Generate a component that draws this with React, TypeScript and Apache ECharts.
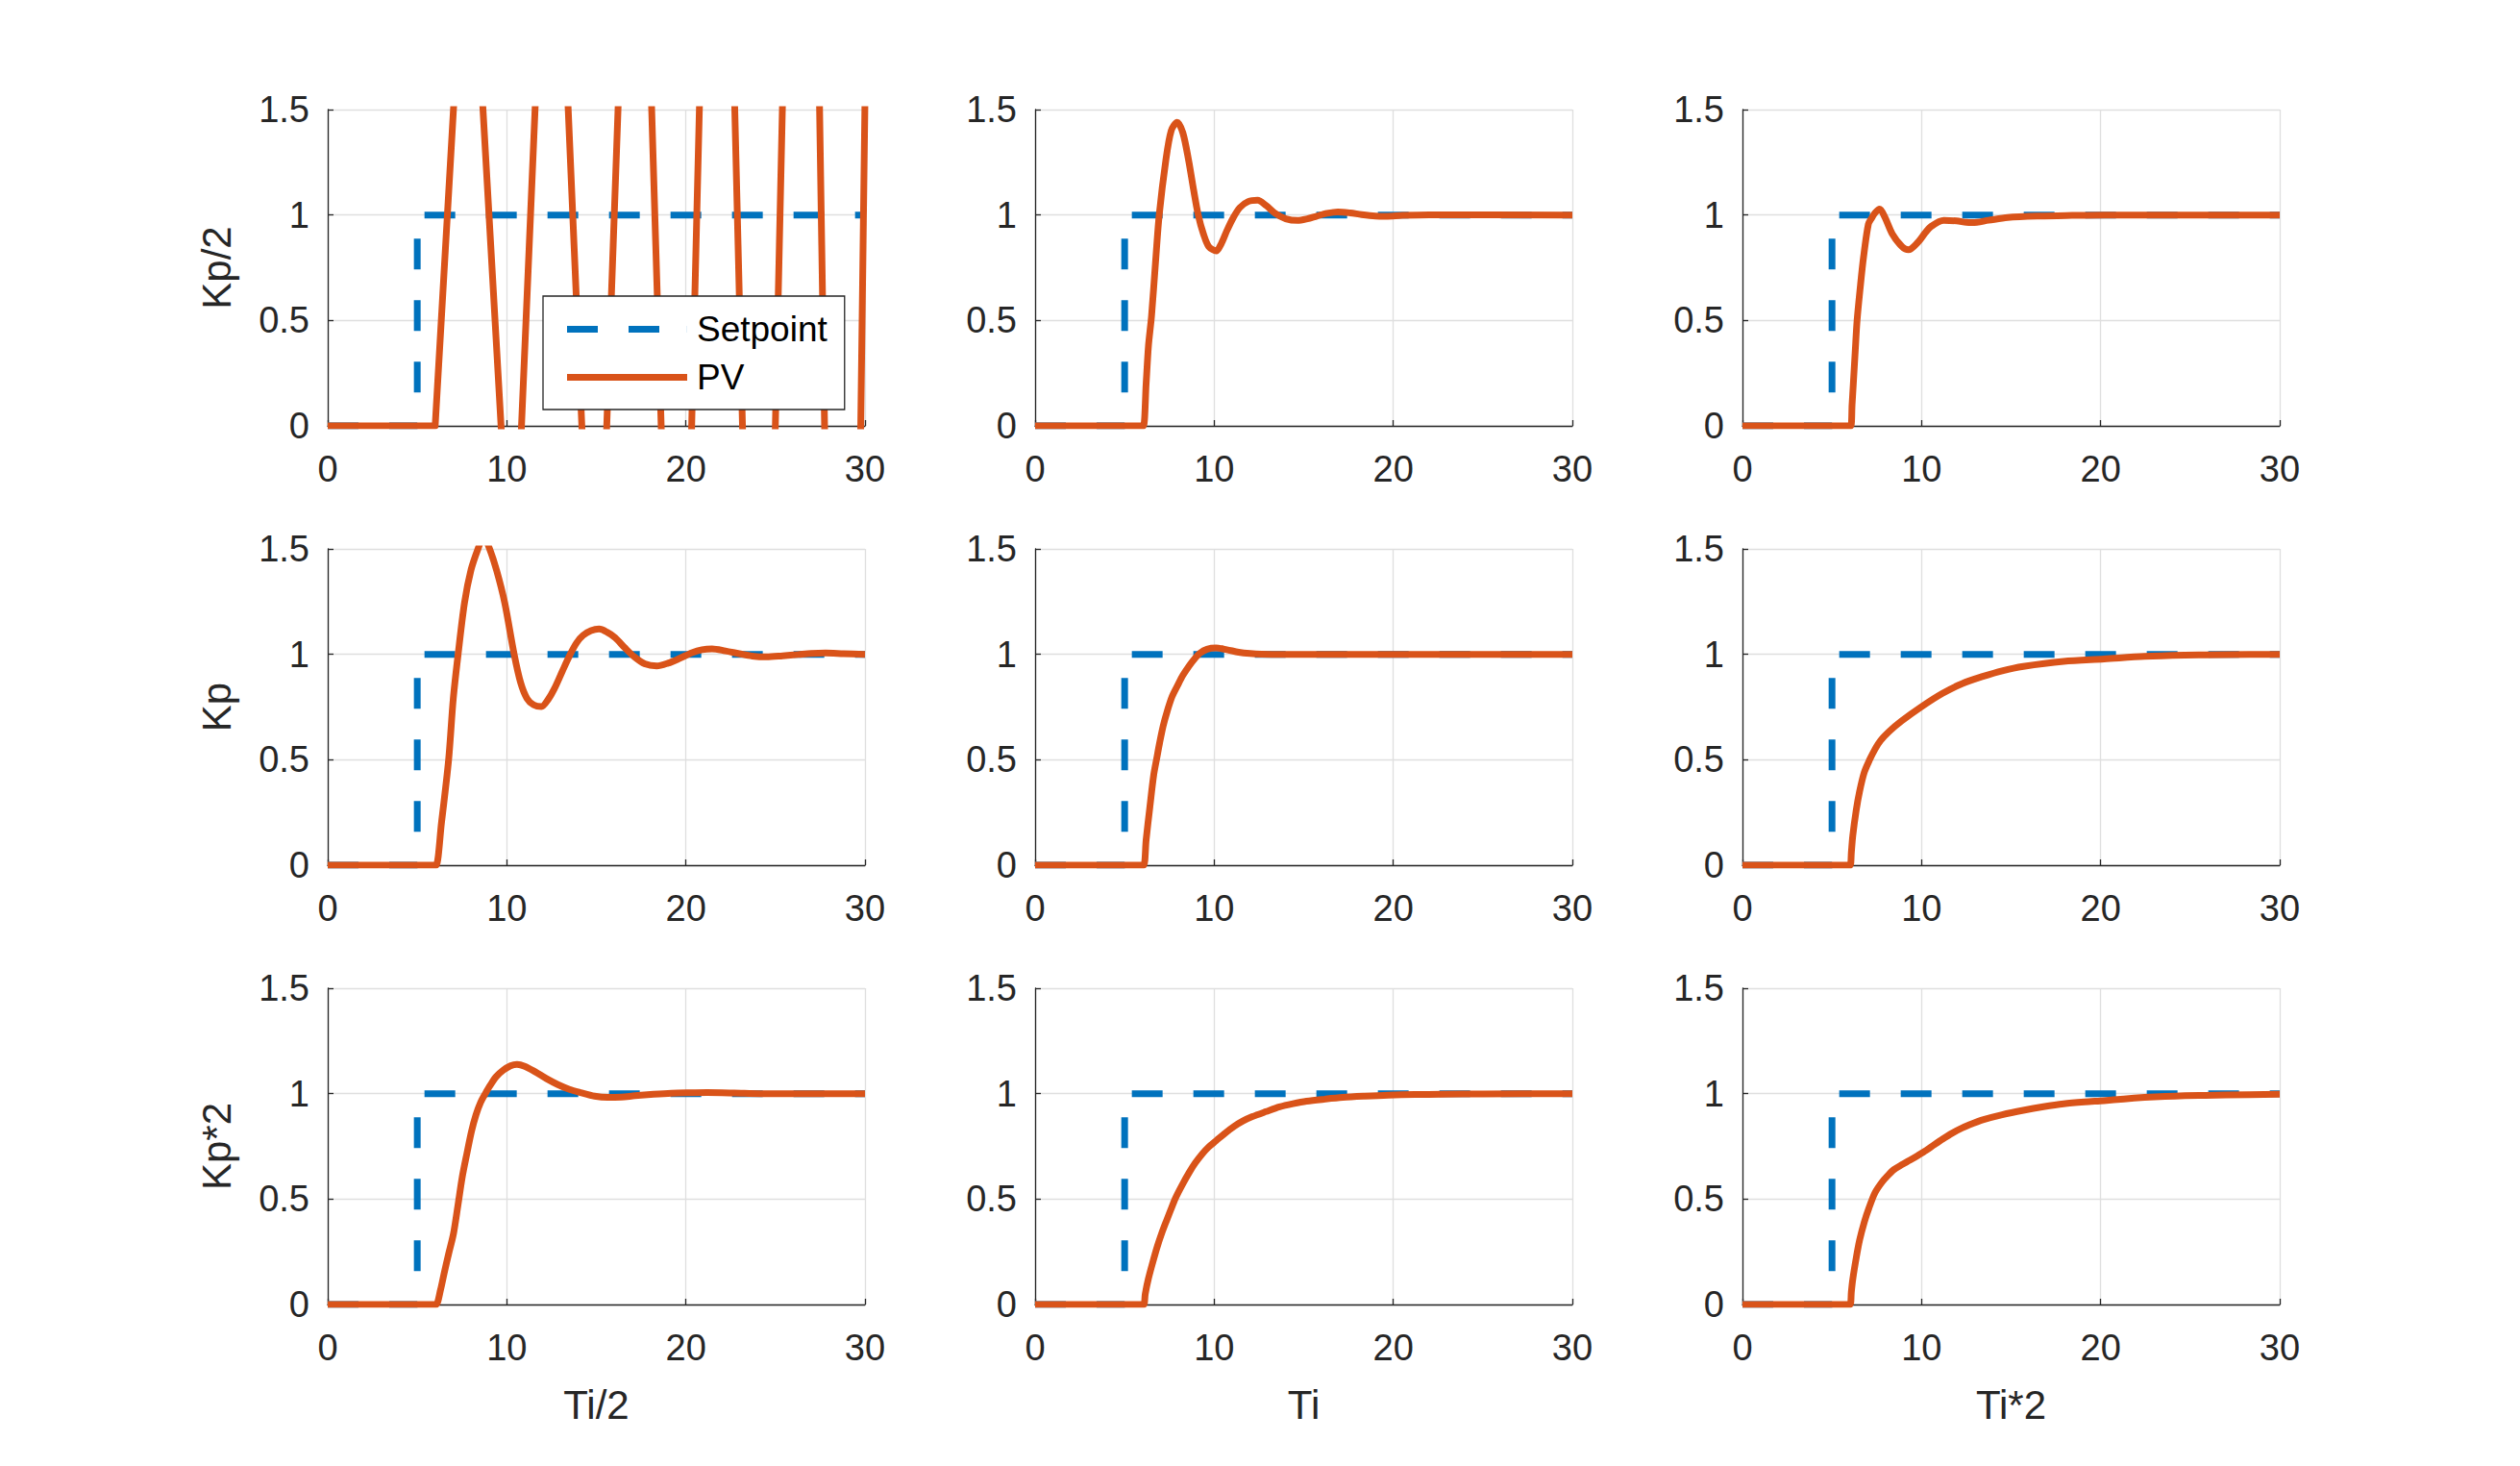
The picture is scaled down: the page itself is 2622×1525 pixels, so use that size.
import React, { useEffect, useRef } from 'react';
import * as echarts from 'echarts';

// ---- Labels and ticks ----
const ROW_LABELS = ['Kp/2', 'Kp', 'Kp*2'];
const COL_LABELS = ['Ti/2', 'Ti', 'Ti*2'];
const X_MIN = 0, X_MAX = 30, X_STEP = 10;
const Y_MIN = 0, Y_MAX = 1.5, Y_STEP = 0.5;
const LEGEND_NAMES = ['Setpoint', 'PV'];

// ---- Setpoint (step at t = 5) ----
const SETPOINT_T = [0, 5, 5, 30];
const SETPOINT_Y = [0, 0, 1, 1];

// ---- PV responses [t, value] ----
const PV_KP2_TI2: number[][] = [
  [0, 0], [6, 0], [7.85, 2.72], [10.33, -0.97], [12.5, 3.33], [14.95, -1.5], [17.23, 3.93],
  [19.56, -2.66], [21.74, 4.95], [24.12, -3.35], [26.6, 6.15], [28.85, -5.95], [30, 1.55],
];
const PV_KP2_TI: number[][] = [
  [0, 0], [5.9, 0], [6.05, 0], [6.2, 0.2], [6.33, 0.38], [6.5, 0.52], [6.72, 0.77], [6.93, 1.0],
  [7.3, 1.26], [7.6, 1.4], [7.93, 1.44], [8.25, 1.39], [8.57, 1.26], [8.85, 1.12], [9.11, 1.0],
  [9.4, 0.91], [9.7, 0.85], [10.12, 0.83], [10.4, 0.865], [10.71, 0.926], [11.05, 0.985],
  [11.43, 1.035], [11.9, 1.064], [12.42, 1.07], [12.9, 1.045], [13.4, 1.008], [14.0, 0.982],
  [14.65, 0.974], [15.2, 0.982], [15.73, 0.995], [16.3, 1.008], [16.9, 1.015], [17.6, 1.01],
  [18.23, 1.002], [19.0, 0.995], [19.6, 0.994], [20.5, 0.998], [22, 1.001], [30, 1.0],
];
const PV_KP2_TI_X2: number[][] = [
  [0, 0], [5.9, 0], [6.05, 0], [6.12, 0.1], [6.19, 0.2], [6.3, 0.36], [6.4, 0.5], [6.58, 0.66],
  [6.76, 0.8], [7.03, 0.956], [7.21, 0.985], [7.4, 1.01], [7.66, 1.028], [7.95, 0.99],
  [8.37, 0.91], [8.91, 0.85], [9.27, 0.835], [9.81, 0.872], [10.2, 0.915], [10.52, 0.945],
  [11.24, 0.974], [11.95, 0.972], [12.5, 0.965], [12.85, 0.964], [13.74, 0.975], [14.81, 0.988],
  [16.6, 0.995], [18.4, 0.998], [20.2, 1.0], [30, 1.0],
];
const PV_KP_TI2: number[][] = [
  [0, 0], [5.9, 0], [6.05, 0], [6.35, 0.2], [6.75, 0.5], [7.01, 0.79], [7.28, 1.0], [7.64, 1.246],
  [8.0, 1.4], [8.39, 1.5], [8.7, 1.56], [9.04, 1.5], [9.43, 1.398], [9.88, 1.246], [10.41, 1.0],
  [10.77, 0.866], [11.13, 0.79], [11.5, 0.76], [11.93, 0.752], [12.3, 0.785], [12.65, 0.836],
  [13.1, 0.92], [13.54, 1.0], [13.9, 1.055], [14.26, 1.09], [14.7, 1.112], [15.15, 1.12],
  [15.6, 1.105], [16.05, 1.079], [16.6, 1.03], [17.12, 0.988], [17.7, 0.955], [18.37, 0.945],
  [19.0, 0.958], [19.63, 0.98], [20.34, 1.008], [20.9, 1.022], [21.46, 1.026], [22.2, 1.016],
  [22.98, 1.003], [23.7, 0.992], [24.5, 0.988], [25.4, 0.993], [26.27, 0.999], [27.0, 1.004],
  [27.8, 1.006], [28.8, 1.003], [30, 1.0],
];
const PV_KP_TI: number[][] = [
  [0, 0], [5.9, 0], [6.07, 0], [6.2, 0.12], [6.4, 0.27], [6.62, 0.426], [6.8, 0.51], [6.95, 0.579],
  [7.15, 0.66], [7.38, 0.731], [7.65, 0.8], [7.96, 0.853], [8.25, 0.9], [8.59, 0.944],
  [8.9, 0.978], [9.2, 1.005], [9.6, 1.024], [10.1, 1.03], [10.7, 1.022], [11.37, 1.01],
  [12.0, 1.004], [12.64, 1.001], [14, 1.0], [30, 1.0],
];
const PV_KP_TI_X2: number[][] = [
  [0, 0], [5.9, 0], [6.02, 0], [6.08, 0.06], [6.16, 0.14], [6.35, 0.26], [6.54, 0.35], [6.8, 0.44],
  [7.1, 0.5], [7.4, 0.55], [7.7, 0.59], [8.2, 0.635], [8.9, 0.685], [10.0, 0.752], [11.17, 0.815],
  [12.29, 0.862], [13.42, 0.895], [14.5, 0.922], [15.68, 0.943], [17.93, 0.967], [20.19, 0.978],
  [22.45, 0.99], [24.7, 0.996], [27, 0.999], [30, 1.0],
];
const PV_KP_X2_TI2: number[][] = [
  [0, 0], [5.9, 0], [6.05, 0], [6.3, 0.07], [6.51, 0.152], [6.75, 0.24], [7.02, 0.335], [7.27, 0.47],
  [7.52, 0.609], [7.78, 0.72], [8.03, 0.822], [8.28, 0.9], [8.54, 0.959], [8.8, 1.0], [9.04, 1.035],
  [9.4, 1.08], [9.8, 1.111], [10.2, 1.132], [10.57, 1.139], [11.0, 1.13], [11.58, 1.104],
  [12.2, 1.072], [12.85, 1.043], [13.5, 1.02], [14.11, 1.005], [14.9, 0.988], [15.63, 0.982],
  [16.4, 0.984], [17.15, 0.99], [18.2, 0.997], [19.18, 1.002], [20.2, 1.004], [21.2, 1.005],
  [22.7, 1.003], [24.2, 1.0], [30, 1.0],
];
const PV_KP_X2_TI: number[][] = [
  [0, 0], [5.9, 0], [6.07, 0], [6.15, 0.05], [6.32, 0.12], [6.57, 0.2], [6.82, 0.274], [7.08, 0.34],
  [7.33, 0.396], [7.58, 0.45], [7.83, 0.503], [8.2, 0.565], [8.59, 0.624], [8.95, 0.672],
  [9.35, 0.716], [9.7, 0.748], [10.11, 0.777], [10.6, 0.812], [11.12, 0.845], [11.6, 0.87],
  [12.13, 0.891], [12.9, 0.915], [13.65, 0.937], [14.4, 0.952], [15.16, 0.964], [16.2, 0.974],
  [17.18, 0.982], [18.4, 0.988], [19.71, 0.993], [21.2, 0.996], [22.74, 0.997], [25, 0.999],
  [30, 1.0],
];
const PV_KP_X2_TI_X2: number[][] = [
  [0, 0], [5.9, 0], [6.02, 0], [6.08, 0.06], [6.16, 0.12], [6.35, 0.22], [6.54, 0.305],
  [6.8, 0.39], [7.06, 0.457], [7.4, 0.53], [7.78, 0.579], [8.1, 0.61], [8.46, 0.64], [8.9, 0.663],
  [9.36, 0.685], [9.8, 0.707], [10.26, 0.731], [10.7, 0.757], [11.17, 0.784], [11.7, 0.812],
  [12.29, 0.838], [12.85, 0.858], [13.42, 0.876], [14.5, 0.9], [15.68, 0.921], [16.8, 0.938],
  [17.93, 0.952], [19.1, 0.961], [20.19, 0.967], [21.3, 0.975], [22.45, 0.982], [23.6, 0.987],
  [24.7, 0.99], [27, 0.994], [30, 0.997],
];

const PANELS: number[][][] = [
  PV_KP2_TI2, PV_KP2_TI, PV_KP2_TI_X2,
  PV_KP_TI2, PV_KP_TI, PV_KP_TI_X2,
  PV_KP_X2_TI2, PV_KP_X2_TI, PV_KP_X2_TI_X2,
];

// ---- Layout ----
const COL_LEFT = [341, 1077, 1813];
const ROW_TOP = [114, 571, 1028];
const PLOT_W = 559;
const PLOT_H = 329;

const FONT = '"Liberation Sans", Arial, Helvetica, sans-serif';
const AXIS_COLOR = '#262626';
const GRID_COLOR = '#dfdfdf';
const SP_COLOR = '#0072BD';
const PV_COLOR = '#D95319';
const LINE_W = 7;

// Legend icons: dashed sample (two dashes over a 125 px wide box) and a solid bar
const DASH_ICON = 'path://M0,0h32v7H0zM64,0h32v7H64zM124.9,0h0.1v7h-0.1z';

function buildOption() {
  const grid: any[] = [];
  const xAxis: any[] = [];
  const yAxis: any[] = [];
  const series: any[] = [];
  const spData = SETPOINT_T.map((t, i) => [t, SETPOINT_Y[i]]);

  PANELS.forEach((pv, i) => {
    const row = Math.floor(i / 3);
    const col = i % 3;
    grid.push({ left: COL_LEFT[col], top: ROW_TOP[row], width: PLOT_W, height: PLOT_H, containLabel: false });
    xAxis.push({
      gridIndex: i,
      type: 'value',
      min: X_MIN,
      max: X_MAX,
      interval: X_STEP,
      name: row === 2 ? COL_LABELS[col] : '',
      nameLocation: 'middle',
      nameGap: 83,
      nameTextStyle: { fontSize: 42, color: AXIS_COLOR, fontFamily: FONT },
      axisLine: { show: true, onZero: false, lineStyle: { color: AXIS_COLOR, width: 1.3 } },
      axisTick: { show: true, inside: true, length: 6, lineStyle: { color: AXIS_COLOR, width: 1.3 } },
      axisLabel: { fontSize: 38, color: AXIS_COLOR, margin: 26, fontFamily: FONT },
      splitLine: { show: true, lineStyle: { color: GRID_COLOR, width: 1.3 } },
    });
    yAxis.push({
      gridIndex: i,
      type: 'value',
      min: Y_MIN,
      max: Y_MAX,
      interval: Y_STEP,
      name: col === 0 ? ROW_LABELS[row] : '',
      nameLocation: 'middle',
      nameGap: 95,
      nameTextStyle: { fontSize: 42, color: AXIS_COLOR, fontFamily: FONT },
      axisLine: { show: true, onZero: false, lineStyle: { color: AXIS_COLOR, width: 1.3 } },
      axisTick: { show: true, inside: true, length: 6, lineStyle: { color: AXIS_COLOR, width: 1.3 } },
      axisLabel: { fontSize: 38, color: AXIS_COLOR, margin: 19, fontFamily: FONT },
      splitLine: { show: true, lineStyle: { color: GRID_COLOR, width: 1.3 } },
    });
    series.push({
      name: LEGEND_NAMES[0],
      type: 'line',
      xAxisIndex: i,
      yAxisIndex: i,
      data: spData,
      symbol: 'none',
      itemStyle: { color: SP_COLOR },
      lineStyle: { color: SP_COLOR, width: LINE_W, type: [32, 32], cap: 'butt' },
    });
    series.push({
      name: LEGEND_NAMES[1],
      type: 'line',
      xAxisIndex: i,
      yAxisIndex: i,
      data: pv,
      symbol: 'none',
      smooth: i === 0 ? false : 0.3,
      itemStyle: { color: PV_COLOR },
      lineStyle: { color: PV_COLOR, width: LINE_W, join: 'round' },
    });
  });

  return {
    animation: false,
    backgroundColor: '#ffffff',
    textStyle: { fontFamily: FONT },
    grid,
    xAxis,
    yAxis,
    series,
    legend: {
      data: [
        { name: LEGEND_NAMES[0], icon: DASH_ICON, itemStyle: { color: SP_COLOR } },
        { name: LEGEND_NAMES[1], icon: 'rect', itemStyle: { color: PV_COLOR } },
      ],
      orient: 'vertical',
      left: 565,
      top: 308,
      padding: [16, 18, 15, 25],
      itemGap: 13,
      itemWidth: 125,
      itemHeight: 7,
      backgroundColor: '#ffffff',
      borderColor: AXIS_COLOR,
      borderWidth: 1.3,
      borderRadius: 0,
      selectedMode: false,
      textStyle: { fontSize: 37, color: '#000000', fontFamily: FONT, padding: [0, 0, 0, 5] },
    },
  };
}

export default function App() {
  const ref = useRef<HTMLDivElement | null>(null);
  useEffect(() => {
    if (!ref.current) return;
    const chart = echarts.init(ref.current, undefined, { renderer: 'svg' });
    chart.setOption(buildOption() as any);
    return () => chart.dispose();
  }, []);
  return (
    <div
      ref={ref}
      style={{ position: 'fixed', left: 0, top: 0, width: '2622px', height: '1525px', background: '#ffffff' }}
    />
  );
}
